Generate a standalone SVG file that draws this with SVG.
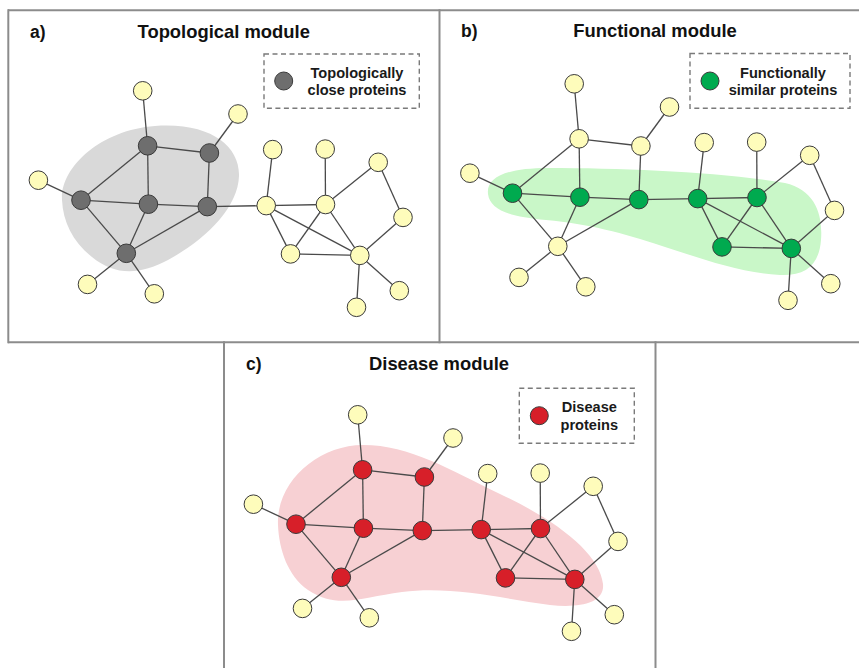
<svg xmlns="http://www.w3.org/2000/svg" xmlns:xlink="http://www.w3.org/1999/xlink" width="859" height="668" viewBox="0 0 859 668">
  <style>
    .frame { fill: none; stroke: #8c8c8c; stroke-width: 2; }
    .title { font-family: "Liberation Sans", Arial, sans-serif; font-weight: bold; font-size: 18.4px; fill: #111; text-anchor: middle; }
    .tag { font-family: "Liberation Sans", Arial, sans-serif; font-weight: bold; font-size: 17.5px; fill: #111; }
    .legend-box { fill: none; stroke: #7a7a7a; stroke-width: 1.4; stroke-dasharray: 5 3.5; }
    .legend-text { font-family: "Liberation Sans", Arial, sans-serif; font-weight: bold; font-size: 14.6px; fill: #1a1a1a; text-anchor: middle; }
    .edges line { stroke: #4a4a4a; stroke-width: 1.3; }
    .node circle { stroke: #3a3a3a; stroke-width: 1; }
    .plain circle { fill: #fefcbb; }
    .gray circle { fill: #6e6e6e; }
    .green circle { fill: #00aa4f; }
    .red circle { fill: #d71f29; }
    .blob-gray { fill: #d9d9d9; }
    .blob-green { fill: #c9f7c8; }
    .blob-red { fill: #f7d0d3; }
  </style>

  <rect width="859" height="668" fill="#ffffff"/>

  <!-- panel frames -->
  <g id="frames" class="frame">
    <line x1="8" y1="10.3" x2="859" y2="10.3"/>
    <line x1="8" y1="342.3" x2="859" y2="342.3"/>
    <line x1="8.3" y1="9.3" x2="8.3" y2="343.3"/>
    <line x1="439.5" y1="9.3" x2="439.5" y2="343.3"/>
    <line x1="224" y1="341.3" x2="224" y2="668"/>
    <line x1="655.5" y1="341.3" x2="655.5" y2="668"/>
  </g>

  <!-- ===== a) Topological module ===== -->
  <g id="panel-a">
    <text class="tag" x="30" y="37.5">a)</text>
    <text class="title" x="223.7" y="37.5">Topological module</text>
    <path class="blob-gray" d="M62,200 C60,168 100,130 155,126 C210,122 240,146 239,176 C238,208 205,240 168,260 C140,275 115,276 92,257 C73,242 63,222 62,200 Z"/>
    <g id="a-legend">
      <rect class="legend-box" x="264" y="54" width="155.3" height="54.3"/>
      <g class="node gray"><circle cx="283.7" cy="81" r="9"/></g>
      <text class="legend-text" x="357" y="78.3">Topologically</text>
      <text class="legend-text" x="357" y="95">close proteins</text>
    </g>
    <g id="a-edges" class="edges">
      <line x1="142.7" y1="90.8" x2="147.6" y2="145.8"/>
      <line x1="238" y1="114" x2="209.4" y2="153"/>
      <line x1="147.6" y1="145.8" x2="209.4" y2="153"/>
      <line x1="147.6" y1="145.8" x2="81" y2="200.2"/>
      <line x1="147.6" y1="145.8" x2="148.4" y2="204.2"/>
      <line x1="209.4" y1="153" x2="207.3" y2="206.6"/>
      <line x1="38.4" y1="180.2" x2="81" y2="200.2"/>
      <line x1="81" y1="200.2" x2="148.4" y2="204.2"/>
      <line x1="81" y1="200.2" x2="126.3" y2="253.3"/>
      <line x1="148.4" y1="204.2" x2="207.3" y2="206.6"/>
      <line x1="148.4" y1="204.2" x2="126.3" y2="253.3"/>
      <line x1="207.3" y1="206.6" x2="126.3" y2="253.3"/>
      <line x1="126.3" y1="253.3" x2="87.5" y2="284.4"/>
      <line x1="126.3" y1="253.3" x2="154.3" y2="293.8"/>
      <line x1="207.3" y1="206.6" x2="266.2" y2="205.6"/>
      <line x1="266.2" y1="205.6" x2="272.7" y2="149.6"/>
      <line x1="266.2" y1="205.6" x2="325.5" y2="204.5"/>
      <line x1="266.2" y1="205.6" x2="290.5" y2="253.9"/>
      <line x1="266.2" y1="205.6" x2="359.8" y2="255.4"/>
      <line x1="325.5" y1="204.5" x2="325.2" y2="149.1"/>
      <line x1="325.5" y1="204.5" x2="378.2" y2="162.3"/>
      <line x1="325.5" y1="204.5" x2="290.5" y2="253.9"/>
      <line x1="325.5" y1="204.5" x2="359.8" y2="255.4"/>
      <line x1="378.2" y1="162.3" x2="403" y2="217.4"/>
      <line x1="403" y1="217.4" x2="359.8" y2="255.4"/>
      <line x1="290.5" y1="253.9" x2="359.8" y2="255.4"/>
      <line x1="359.8" y1="255.4" x2="399.3" y2="290.7"/>
      <line x1="359.8" y1="255.4" x2="356.5" y2="307.3"/>
    </g>
    <g id="a-n1" class="node plain"><circle cx="142.7" cy="90.8" r="9.3"/></g>
    <g id="a-n2" class="node plain"><circle cx="238" cy="114" r="9.3"/></g>
    <g id="a-g1" class="node gray"><circle cx="147.6" cy="145.8" r="9.3"/></g>
    <g id="a-g2" class="node gray"><circle cx="209.4" cy="153" r="9.3"/></g>
    <g id="a-yl" class="node plain"><circle cx="38.4" cy="180.2" r="9.3"/></g>
    <g id="a-g3" class="node gray"><circle cx="81" cy="200.2" r="9.3"/></g>
    <g id="a-g4" class="node gray"><circle cx="148.4" cy="204.2" r="9.3"/></g>
    <g id="a-g5" class="node gray"><circle cx="207.3" cy="206.6" r="9.3"/></g>
    <g id="a-g6" class="node gray"><circle cx="126.3" cy="253.3" r="9.3"/></g>
    <g id="a-ybl" class="node plain"><circle cx="87.5" cy="284.4" r="9.3"/></g>
    <g id="a-yb" class="node plain"><circle cx="154.3" cy="293.8" r="9.3"/></g>
    <g id="a-t1" class="node plain"><circle cx="272.7" cy="149.6" r="9.3"/></g>
    <g id="a-t2" class="node plain"><circle cx="325.2" cy="149.1" r="9.3"/></g>
    <g id="a-t3" class="node plain"><circle cx="378.2" cy="162.3" r="9.3"/></g>
    <g id="a-r1" class="node plain"><circle cx="266.2" cy="205.6" r="9.3"/></g>
    <g id="a-r2" class="node plain"><circle cx="325.5" cy="204.5" r="9.3"/></g>
    <g id="a-r3" class="node plain"><circle cx="403" cy="217.4" r="9.3"/></g>
    <g id="a-r4" class="node plain"><circle cx="290.5" cy="253.9" r="9.3"/></g>
    <g id="a-r5" class="node plain"><circle cx="359.8" cy="255.4" r="9.3"/></g>
    <g id="a-r6" class="node plain"><circle cx="399.3" cy="290.7" r="9.3"/></g>
    <g id="a-r7" class="node plain"><circle cx="356.5" cy="307.3" r="9.3"/></g>
  </g>

  <!-- ===== b) Functional module ===== -->
  <g id="panel-b">
    <text class="tag" x="461" y="37">b)</text>
    <text class="title" x="655" y="37">Functional module</text>
    <path class="blob-green" d="M488,194 C486,177 507,168 548,168 C625,168 720,172 785,183 C815,190 823,214 821,240 C819,265 806,276 780,275 C740,273 700,258 662,246 C622,233 590,224 546,220 C510,217 490,210 488,194 Z"/>
    <g id="b-legend">
      <rect class="legend-box" x="690" y="53.5" width="160" height="54.8"/>
      <g class="node green"><circle cx="710" cy="81" r="9"/></g>
      <text class="legend-text" x="783" y="78.3">Functionally</text>
      <text class="legend-text" x="783" y="95">similar proteins</text>
    </g>
    <g transform="translate(431.5,-7)">
      <g id="b-edges" class="edges">
        <line x1="142.7" y1="90.8" x2="147.6" y2="145.8"/>
        <line x1="238" y1="114" x2="209.4" y2="153"/>
        <line x1="147.6" y1="145.8" x2="209.4" y2="153"/>
        <line x1="147.6" y1="145.8" x2="81" y2="200.2"/>
        <line x1="147.6" y1="145.8" x2="148.4" y2="204.2"/>
        <line x1="209.4" y1="153" x2="207.3" y2="206.6"/>
        <line x1="38.4" y1="180.2" x2="81" y2="200.2"/>
        <line x1="81" y1="200.2" x2="148.4" y2="204.2"/>
        <line x1="81" y1="200.2" x2="126.3" y2="253.3"/>
        <line x1="148.4" y1="204.2" x2="207.3" y2="206.6"/>
        <line x1="148.4" y1="204.2" x2="126.3" y2="253.3"/>
        <line x1="207.3" y1="206.6" x2="126.3" y2="253.3"/>
        <line x1="126.3" y1="253.3" x2="87.5" y2="284.4"/>
        <line x1="126.3" y1="253.3" x2="154.3" y2="293.8"/>
        <line x1="207.3" y1="206.6" x2="266.2" y2="205.6"/>
        <line x1="266.2" y1="205.6" x2="272.7" y2="149.6"/>
        <line x1="266.2" y1="205.6" x2="325.5" y2="204.5"/>
        <line x1="266.2" y1="205.6" x2="290.5" y2="253.9"/>
        <line x1="266.2" y1="205.6" x2="359.8" y2="255.4"/>
        <line x1="325.5" y1="204.5" x2="325.2" y2="149.1"/>
        <line x1="325.5" y1="204.5" x2="378.2" y2="162.3"/>
        <line x1="325.5" y1="204.5" x2="290.5" y2="253.9"/>
        <line x1="325.5" y1="204.5" x2="359.8" y2="255.4"/>
        <line x1="378.2" y1="162.3" x2="403" y2="217.4"/>
        <line x1="403" y1="217.4" x2="359.8" y2="255.4"/>
        <line x1="290.5" y1="253.9" x2="359.8" y2="255.4"/>
        <line x1="359.8" y1="255.4" x2="399.3" y2="290.7"/>
        <line x1="359.8" y1="255.4" x2="356.5" y2="307.3"/>
      </g>
      <g id="b-n1" class="node plain"><circle cx="142.7" cy="90.8" r="9.3"/></g>
      <g id="b-n2" class="node plain"><circle cx="238" cy="114" r="9.3"/></g>
      <g id="b-g1" class="node plain"><circle cx="147.6" cy="145.8" r="9.3"/></g>
      <g id="b-g2" class="node plain"><circle cx="209.4" cy="153" r="9.3"/></g>
      <g id="b-yl" class="node plain"><circle cx="38.4" cy="180.2" r="9.3"/></g>
      <g id="b-g3" class="node green"><circle cx="81" cy="200.2" r="9.3"/></g>
      <g id="b-g4" class="node green"><circle cx="148.4" cy="204.2" r="9.3"/></g>
      <g id="b-g5" class="node green"><circle cx="207.3" cy="206.6" r="9.3"/></g>
      <g id="b-g6" class="node plain"><circle cx="126.3" cy="253.3" r="9.3"/></g>
      <g id="b-ybl" class="node plain"><circle cx="87.5" cy="284.4" r="9.3"/></g>
      <g id="b-yb" class="node plain"><circle cx="154.3" cy="293.8" r="9.3"/></g>
      <g id="b-t1" class="node plain"><circle cx="272.7" cy="149.6" r="9.3"/></g>
      <g id="b-t2" class="node plain"><circle cx="325.2" cy="149.1" r="9.3"/></g>
      <g id="b-t3" class="node plain"><circle cx="378.2" cy="162.3" r="9.3"/></g>
      <g id="b-r1" class="node green"><circle cx="266.2" cy="205.6" r="9.3"/></g>
      <g id="b-r2" class="node green"><circle cx="325.5" cy="204.5" r="9.3"/></g>
      <g id="b-r3" class="node plain"><circle cx="403" cy="217.4" r="9.3"/></g>
      <g id="b-r4" class="node green"><circle cx="290.5" cy="253.9" r="9.3"/></g>
      <g id="b-r5" class="node green"><circle cx="359.8" cy="255.4" r="9.3"/></g>
      <g id="b-r6" class="node plain"><circle cx="399.3" cy="290.7" r="9.3"/></g>
      <g id="b-r7" class="node plain"><circle cx="356.5" cy="307.3" r="9.3"/></g>
    </g>
  </g>

  <!-- ===== c) Disease module ===== -->
  <g id="panel-c">
    <text class="tag" x="246" y="370">c)</text>
    <text class="title" x="439" y="370">Disease module</text>
    <path class="blob-red" d="M278,525 C276,482 318,445 363,445 C410,445 450,470 500,494 C560,522 600,555 603,584 C605,604 578,608 550,605 C500,598 452,586 402,592 C362,597 338,610 308,590 C288,576 279,550 278,525 Z"/>
    <g id="c-legend">
      <rect class="legend-box" x="519.3" y="388.3" width="115" height="55"/>
      <g class="node red"><circle cx="539.3" cy="415.7" r="9"/></g>
      <text class="legend-text" x="589.3" y="412.3">Disease</text>
      <text class="legend-text" x="589.3" y="429.5">proteins</text>
    </g>
    <g transform="translate(215,324)">
      <g id="c-edges" class="edges">
        <line x1="142.7" y1="90.8" x2="147.6" y2="145.8"/>
        <line x1="238" y1="114" x2="209.4" y2="153"/>
        <line x1="147.6" y1="145.8" x2="209.4" y2="153"/>
        <line x1="147.6" y1="145.8" x2="81" y2="200.2"/>
        <line x1="147.6" y1="145.8" x2="148.4" y2="204.2"/>
        <line x1="209.4" y1="153" x2="207.3" y2="206.6"/>
        <line x1="38.4" y1="180.2" x2="81" y2="200.2"/>
        <line x1="81" y1="200.2" x2="148.4" y2="204.2"/>
        <line x1="81" y1="200.2" x2="126.3" y2="253.3"/>
        <line x1="148.4" y1="204.2" x2="207.3" y2="206.6"/>
        <line x1="148.4" y1="204.2" x2="126.3" y2="253.3"/>
        <line x1="207.3" y1="206.6" x2="126.3" y2="253.3"/>
        <line x1="126.3" y1="253.3" x2="87.5" y2="284.4"/>
        <line x1="126.3" y1="253.3" x2="154.3" y2="293.8"/>
        <line x1="207.3" y1="206.6" x2="266.2" y2="205.6"/>
        <line x1="266.2" y1="205.6" x2="272.7" y2="149.6"/>
        <line x1="266.2" y1="205.6" x2="325.5" y2="204.5"/>
        <line x1="266.2" y1="205.6" x2="290.5" y2="253.9"/>
        <line x1="266.2" y1="205.6" x2="359.8" y2="255.4"/>
        <line x1="325.5" y1="204.5" x2="325.2" y2="149.1"/>
        <line x1="325.5" y1="204.5" x2="378.2" y2="162.3"/>
        <line x1="325.5" y1="204.5" x2="290.5" y2="253.9"/>
        <line x1="325.5" y1="204.5" x2="359.8" y2="255.4"/>
        <line x1="378.2" y1="162.3" x2="403" y2="217.4"/>
        <line x1="403" y1="217.4" x2="359.8" y2="255.4"/>
        <line x1="290.5" y1="253.9" x2="359.8" y2="255.4"/>
        <line x1="359.8" y1="255.4" x2="399.3" y2="290.7"/>
        <line x1="359.8" y1="255.4" x2="356.5" y2="307.3"/>
      </g>
      <g id="c-n1" class="node plain"><circle cx="142.7" cy="90.8" r="9.3"/></g>
      <g id="c-n2" class="node plain"><circle cx="238" cy="114" r="9.3"/></g>
      <g id="c-g1" class="node red"><circle cx="147.6" cy="145.8" r="9.3"/></g>
      <g id="c-g2" class="node red"><circle cx="209.4" cy="153" r="9.3"/></g>
      <g id="c-yl" class="node plain"><circle cx="38.4" cy="180.2" r="9.3"/></g>
      <g id="c-g3" class="node red"><circle cx="81" cy="200.2" r="9.3"/></g>
      <g id="c-g4" class="node red"><circle cx="148.4" cy="204.2" r="9.3"/></g>
      <g id="c-g5" class="node red"><circle cx="207.3" cy="206.6" r="9.3"/></g>
      <g id="c-g6" class="node red"><circle cx="126.3" cy="253.3" r="9.3"/></g>
      <g id="c-ybl" class="node plain"><circle cx="87.5" cy="284.4" r="9.3"/></g>
      <g id="c-yb" class="node plain"><circle cx="154.3" cy="293.8" r="9.3"/></g>
      <g id="c-t1" class="node plain"><circle cx="272.7" cy="149.6" r="9.3"/></g>
      <g id="c-t2" class="node plain"><circle cx="325.2" cy="149.1" r="9.3"/></g>
      <g id="c-t3" class="node plain"><circle cx="378.2" cy="162.3" r="9.3"/></g>
      <g id="c-r1" class="node red"><circle cx="266.2" cy="205.6" r="9.3"/></g>
      <g id="c-r2" class="node red"><circle cx="325.5" cy="204.5" r="9.3"/></g>
      <g id="c-r3" class="node plain"><circle cx="403" cy="217.4" r="9.3"/></g>
      <g id="c-r4" class="node red"><circle cx="290.5" cy="253.9" r="9.3"/></g>
      <g id="c-r5" class="node red"><circle cx="359.8" cy="255.4" r="9.3"/></g>
      <g id="c-r6" class="node plain"><circle cx="399.3" cy="290.7" r="9.3"/></g>
      <g id="c-r7" class="node plain"><circle cx="356.5" cy="307.3" r="9.3"/></g>
    </g>
  </g>
</svg>
